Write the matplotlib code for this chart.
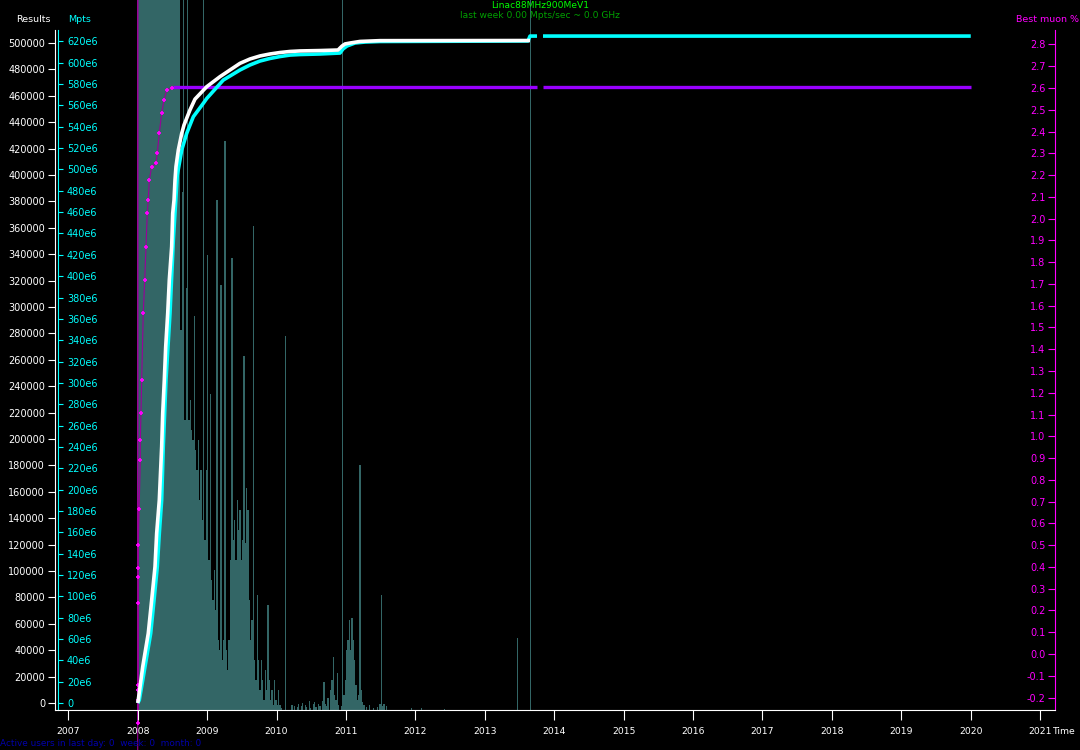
import numpy as np
import matplotlib
matplotlib.use("Agg")
import matplotlib.pyplot as plt

# ---- data ----
years = list(range(2007, 2022))

# cumulative results (white)
res_t = [2008.000, 2008.008, 2008.072, 2008.152, 2008.201, 2008.249, 2008.273, 2008.311,
         2008.345, 2008.360, 2008.383, 2008.403, 2008.432, 2008.455, 2008.489, 2008.504,
         2008.523, 2008.537, 2008.551, 2008.585, 2008.634, 2008.667, 2008.753, 2008.825,
         2008.994, 2009.185, 2009.473, 2009.617, 2009.761, 2009.905, 2010.049, 2010.194,
         2010.338, 2010.626, 2010.885, 2010.943, 2010.986, 2011.058, 2011.202, 2011.490,
         2013.651]
res_v = [0, 2300, 27500, 52800, 78000, 103300, 128600, 153800,
         194200, 219500, 244700, 269900, 295200, 320500, 345700, 371000,
         381100, 396200, 406300, 419000, 431600, 437900, 449300, 457500,
         466900, 474500, 484600, 487900, 490200, 491700, 492800, 493600,
         494000, 494300, 494700, 497700, 499300, 500000, 501200, 501800,
         501900]

# cumulative Mpts (cyan), in units of 1e6
mpts_t = [2008.000, 2008.023, 2008.105, 2008.187, 2008.235, 2008.282, 2008.311, 2008.345,
          2008.368, 2008.407, 2008.465, 2008.513, 2008.570, 2008.634, 2008.706, 2008.801,
          2008.945, 2008.994, 2009.233, 2009.473, 2009.617, 2009.761, 2009.905, 2010.049,
          2010.194, 2010.338, 2010.626, 2010.914, 2010.957, 2011.015, 2011.130, 2011.274,
          2011.490, 2013.622, 2013.651, 2013.752, 2013.790, 2013.838, 2020.000]
mpts_v = [0, 2.8, 34.0, 65.3, 96.5, 127.7, 159.0, 190.2,
          240.2, 302.7, 365.2, 433.9, 494.8, 518.3, 533.9, 549.4,
          562.0, 566.5, 583.8, 593.2, 597.9, 601.6, 604.0, 605.8,
          607.2, 607.7, 608.2, 609.1, 612.9, 615.7, 618.5, 619.4,
          619.9, 620.4, 625.0, 625.0, np.nan, 625.0, 625.0]

# best muon % (magenta rise, purple plateau)
muon_t = [2008.000, 2008.000, 2008.000, 2008.008, 2008.008, 2008.008, 2008.008, 2008.008,
          2008.008, 2008.008, 2008.020, 2008.037, 2008.037, 2008.047, 2008.057, 2008.080,
          2008.101, 2008.119, 2008.138, 2008.152, 2008.167, 2008.201, 2008.263, 2008.282,
          2008.311, 2008.345, 2008.379, 2008.417, 2008.489]
muon_v = [-0.45, 3.2, -0.317, -0.211, -0.165, -0.142, 0.234, 0.354,
          0.395, 0.501, 0.666, 0.891, 0.983, 1.107, 1.259, 1.566,
          1.718, 1.871, 2.026, 2.085, 2.177, 2.238, 2.254, 2.301,
          2.393, 2.485, 2.545, 2.591, 2.601]
plateau_t = [2008.513, 2013.752, 2013.790, 2013.838, 2020.000]
plateau_v = [2.603, 2.603, np.nan, 2.603, 2.603]

# weekly work histogram starting 2008.0 (arbitrary units, 7100 = top of frame)
hist_start = 2008.0
hist_vals = [9000, 9000, 9000, 9000, 9000, 9000, 9000, 9000, 9000, 9000, 9000, 9000, 9000, 9000, 9000, 9000,
             9000, 9000, 9000, 9000, 9000, 9000, 9000, 9000, 9000, 9000, 9000, 9000, 9000, 9000, 9000, 9000,
             3800, 5180, 9000, 2900, 4220, 9000, 2900, 3100, 2800, 2700, 3940, 2600, 2400, 2700, 2100, 2400,
             1900, 9000, 1700, 2400, 4550, 1500, 3160, 1300, 1100, 1400, 1000, 5100, 700, 600, 4250, 500,
             700, 5690, 600, 400, 700, 1500, 4520, 1700, 1900, 1500, 2100, 1800, 2000, 1500, 1700, 3540,
             1670, 2220, 2000, 1100, 700, 900, 4840, 500, 300, 1150, 500, 200, 500, 300, 100, 400,
             200, 1050, 300, 100, 200, 50, 300, 100, 50, 200, 50, 20, 0, 0, 3740, 0,
             0, 0, 0, 50, 0, 40, 0, 30, 60, 0, 40, 70, 0, 50, 30, 0,
             90, 20, 0, 60, 80, 30, 0, 60, 40, 0, 90, 280, 60, 40, 120, 0,
             200, 300, 530, 150, 100, 370, 50, 0, 40, 9000, 150, 300, 600, 700, 900, 600,
             920, 700, 500, 250, 100, 150, 2450, 200, 80, 50, 0, 30, 0, 50, 0, 0,
             20, 0, 0, 30, 0, 60, 1150, 40, 60, 0, 40]
extra_t = [2011.951, 2012.095, 2012.426, 2013.464, 2013.651]
extra_v = [20, 20, 10, 720, 9000]

# ---- figure ----
PT = 0.72  # points per pixel at dpi 100
fig = plt.figure(figsize=(10.8, 7.5), dpi=100, facecolor="black")
rect = [55 / 1080, 40 / 750, 1000 / 1080, 710 / 750]
XLIM = (2006.8084, 2021.2137)

axh = fig.add_axes(rect)
axh.set_facecolor("black")
axh.set_axis_off()
axh.set_xlim(XLIM)
axh.set_ylim(0, 7100)
week = 1 / 52
hx = hist_start + week * (np.arange(len(hist_vals)) + 0.5)
axh.bar(hx, hist_vals, width=week, color="#336666", linewidth=0, antialiased=False)
axh.bar(extra_t, extra_v, width=0.0144, color="#336666", linewidth=0)

ax = fig.add_axes(rect)
ax.patch.set_visible(False)
ax.set_xlim(XLIM)
ax.set_ylim(-5303, 532593)
ax2 = ax.twinx()
ax3 = ax.twinx()
ax3.set_zorder(1)
ax2.set_zorder(2)
ax.set_zorder(3)
for a in (ax2, ax3):
    a.patch.set_visible(False)
    for s in a.spines.values():
        s.set_visible(False)

# results axis (white, left)
for s in ("top", "right"):
    ax.spines[s].set_visible(False)
ax.spines["left"].set_color("white")
ax.spines["left"].set_bounds(-5303, 509865)
ax.spines["bottom"].set_color("white")
ax.set_yticks(range(0, 500001, 20000))
ax.set_yticklabels([str(v) for v in range(0, 500001, 20000)])
ax.tick_params(axis="y", colors="white", length=7 * PT, pad=3 * PT, labelsize=7)
ax.set_xticks(years)
ax.set_xticklabels([str(y) for y in years])
ax.tick_params(axis="x", colors="white", length=10 * PT, pad=7 * PT, labelsize=6.7)

# Mpts axis (cyan, ticks to the right of the left edge)
ax2.set_ylim(-6.56, 658.8)
ax2.spines["right"].set_visible(True)
ax2.spines["right"].set_position(("axes", 2.5 / 1000))
ax2.spines["right"].set_bounds(-6.56, 630.7)
ax2.spines["right"].set_color("#00ffff")
mt = list(range(0, 621, 20))
ax2.set_yticks(mt)
ax2.set_yticklabels(["0" if v == 0 else "%de6" % v for v in mt])
ax2.tick_params(axis="y", colors="#00ffff", length=5 * PT, pad=4.5 * PT, labelsize=7)

# best muon axis (magenta, right edge, labels inside)
ax3.set_ylim(-0.2572, 3.0041)
ax3.yaxis.tick_left()
ax3.spines["left"].set_visible(True)
ax3.spines["left"].set_position(("axes", 1.0))
ax3.spines["left"].set_bounds(-0.2572, 2.866)
ax3.spines["left"].set_color("#ff00ff")
bt = np.round(np.arange(-0.2, 2.81, 0.1), 1)
ax3.set_yticks(bt)
ax3.set_yticklabels(["%.1f" % v for v in bt])
ax3.tick_params(axis="y", colors="#ff00ff", length=7 * PT, pad=2.5 * PT, labelsize=7)

# lines
ax3.plot(plateau_t, plateau_v, color="#9900ff", linewidth=2.4, solid_capstyle="butt")
ax3.plot(muon_t, muon_v, color="#990099", linewidth=0.8, marker="+", markersize=3.5,
         markeredgecolor="#ff00ff", markeredgewidth=1.3, clip_on=False)
ax2.plot(mpts_t, mpts_v, color="#00ffff", linewidth=2.6, solid_capstyle="butt")
ax.plot(res_t, res_v, color="white", linewidth=2.6, solid_capstyle="butt")

# texts
fig.text(0.5, 1 - 6 / 750, "Linac88MHz900MeV1", color="#00ff00", ha="center", va="center", fontsize=6.6)
fig.text(0.5, 1 - 15.5 / 750, "last week 0.00 Mpts/sec ~ 0.0 GHz", color="#00a000",
         ha="center", va="center", fontsize=6.6)
fig.text(33 / 1080, 1 - 19 / 750, "Results", color="white", ha="center", va="center", fontsize=6.8)
fig.text(68 / 1080, 1 - 19 / 750, "Mpts", color="#00ffff", ha="left", va="center", fontsize=6.8)
fig.text(1079 / 1080, 1 - 19 / 750, "Best muon %", color="#ff00ff", ha="right", va="center", fontsize=6.8)
fig.text(1052 / 1080, 1 - 732 / 750, "Time", color="white", ha="left", va="center", fontsize=6.7)
fig.text(0, 1 - 744 / 750, "Active users in last day: 0  week: 0  month: 0", color="#0000aa",
         ha="left", va="center", fontsize=6.4)

fig.savefig("out.png", dpi=100, facecolor="black")
